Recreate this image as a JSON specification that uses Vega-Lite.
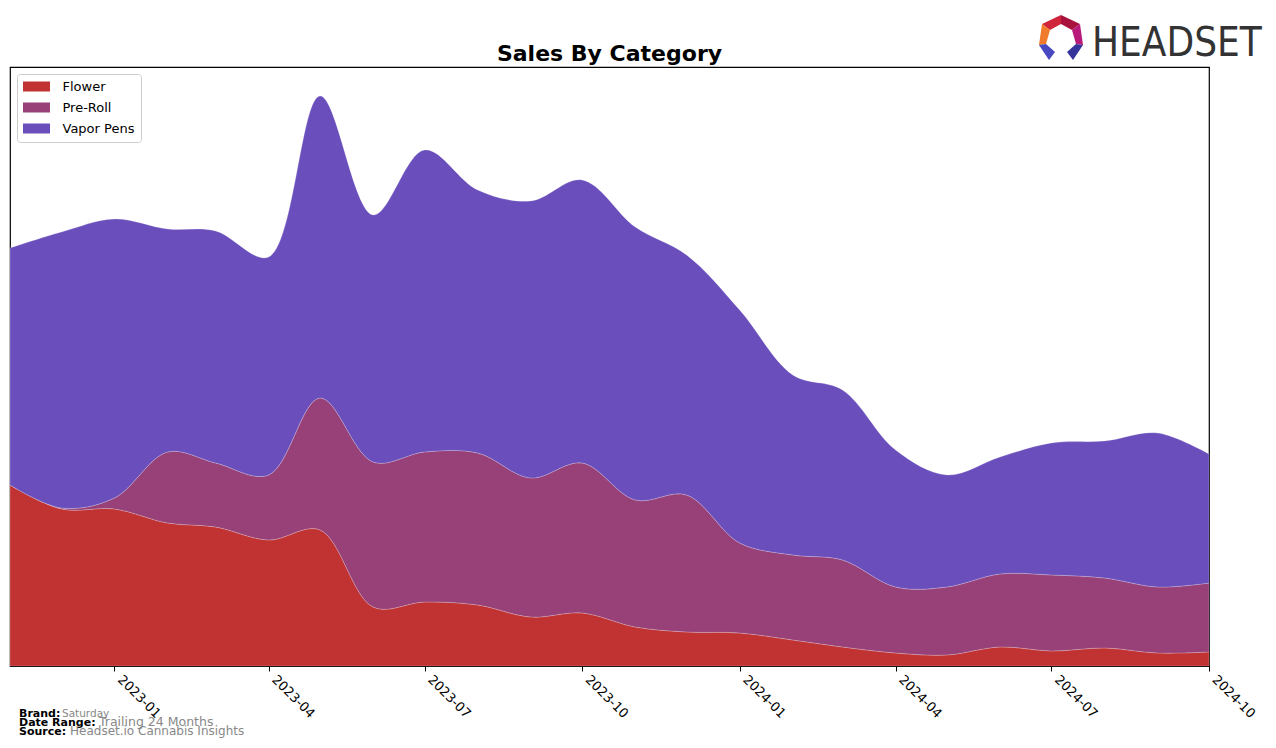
{
  "$schema": "https://vega.github.io/schema/vega-lite/v6.json",
  "autosize": {"type": "none"},
  "width": 1199,
  "height": 599,
  "padding": {"left": 10, "top": 67, "right": 67, "bottom": 82},
  "background": "white",
  "config": {"view": {"stroke": "black", "strokeWidth": 1.2}, "font": "DejaVu Sans"},
  "datasets": {
    "sales": [
      {"month": "2022-11-01", "category": "Flower", "sales": 181},
      {"month": "2022-12-01", "category": "Flower", "sales": 157},
      {"month": "2023-01-01", "category": "Flower", "sales": 157},
      {"month": "2023-02-01", "category": "Flower", "sales": 143},
      {"month": "2023-03-01", "category": "Flower", "sales": 139},
      {"month": "2023-04-01", "category": "Flower", "sales": 126},
      {"month": "2023-05-01", "category": "Flower", "sales": 136},
      {"month": "2023-06-01", "category": "Flower", "sales": 59},
      {"month": "2023-07-01", "category": "Flower", "sales": 64},
      {"month": "2023-08-01", "category": "Flower", "sales": 61},
      {"month": "2023-09-01", "category": "Flower", "sales": 49},
      {"month": "2023-10-01", "category": "Flower", "sales": 53},
      {"month": "2023-11-01", "category": "Flower", "sales": 39},
      {"month": "2023-12-01", "category": "Flower", "sales": 34},
      {"month": "2024-01-01", "category": "Flower", "sales": 33},
      {"month": "2024-02-01", "category": "Flower", "sales": 26},
      {"month": "2024-03-01", "category": "Flower", "sales": 19},
      {"month": "2024-04-01", "category": "Flower", "sales": 13},
      {"month": "2024-05-01", "category": "Flower", "sales": 11},
      {"month": "2024-06-01", "category": "Flower", "sales": 19},
      {"month": "2024-07-01", "category": "Flower", "sales": 15},
      {"month": "2024-08-01", "category": "Flower", "sales": 18},
      {"month": "2024-09-01", "category": "Flower", "sales": 13},
      {"month": "2024-10-01", "category": "Flower", "sales": 14},
      {"month": "2022-11-01", "category": "Pre-Roll", "sales": 0},
      {"month": "2022-12-01", "category": "Pre-Roll", "sales": 1},
      {"month": "2023-01-01", "category": "Pre-Roll", "sales": 11},
      {"month": "2023-02-01", "category": "Pre-Roll", "sales": 71},
      {"month": "2023-03-01", "category": "Pre-Roll", "sales": 64},
      {"month": "2023-04-01", "category": "Pre-Roll", "sales": 65},
      {"month": "2023-05-01", "category": "Pre-Roll", "sales": 132},
      {"month": "2023-06-01", "category": "Pre-Roll", "sales": 145},
      {"month": "2023-07-01", "category": "Pre-Roll", "sales": 150},
      {"month": "2023-08-01", "category": "Pre-Roll", "sales": 152},
      {"month": "2023-09-01", "category": "Pre-Roll", "sales": 139},
      {"month": "2023-10-01", "category": "Pre-Roll", "sales": 150},
      {"month": "2023-11-01", "category": "Pre-Roll", "sales": 127},
      {"month": "2023-12-01", "category": "Pre-Roll", "sales": 137},
      {"month": "2024-01-01", "category": "Pre-Roll", "sales": 90},
      {"month": "2024-02-01", "category": "Pre-Roll", "sales": 85},
      {"month": "2024-03-01", "category": "Pre-Roll", "sales": 87},
      {"month": "2024-04-01", "category": "Pre-Roll", "sales": 66},
      {"month": "2024-05-01", "category": "Pre-Roll", "sales": 68},
      {"month": "2024-06-01", "category": "Pre-Roll", "sales": 73},
      {"month": "2024-07-01", "category": "Pre-Roll", "sales": 76},
      {"month": "2024-08-01", "category": "Pre-Roll", "sales": 70},
      {"month": "2024-09-01", "category": "Pre-Roll", "sales": 66},
      {"month": "2024-10-01", "category": "Pre-Roll", "sales": 69},
      {"month": "2022-11-01", "category": "Vapor Pens", "sales": 237},
      {"month": "2022-12-01", "category": "Vapor Pens", "sales": 276},
      {"month": "2023-01-01", "category": "Vapor Pens", "sales": 279},
      {"month": "2023-02-01", "category": "Vapor Pens", "sales": 223},
      {"month": "2023-03-01", "category": "Vapor Pens", "sales": 232},
      {"month": "2023-04-01", "category": "Vapor Pens", "sales": 218},
      {"month": "2023-05-01", "category": "Vapor Pens", "sales": 302},
      {"month": "2023-06-01", "category": "Vapor Pens", "sales": 247},
      {"month": "2023-07-01", "category": "Vapor Pens", "sales": 302},
      {"month": "2023-08-01", "category": "Vapor Pens", "sales": 263},
      {"month": "2023-09-01", "category": "Vapor Pens", "sales": 277},
      {"month": "2023-10-01", "category": "Vapor Pens", "sales": 283},
      {"month": "2023-11-01", "category": "Vapor Pens", "sales": 273},
      {"month": "2023-12-01", "category": "Vapor Pens", "sales": 240},
      {"month": "2024-01-01", "category": "Vapor Pens", "sales": 233},
      {"month": "2024-02-01", "category": "Vapor Pens", "sales": 180},
      {"month": "2024-03-01", "category": "Vapor Pens", "sales": 170},
      {"month": "2024-04-01", "category": "Vapor Pens", "sales": 137},
      {"month": "2024-05-01", "category": "Vapor Pens", "sales": 112},
      {"month": "2024-06-01", "category": "Vapor Pens", "sales": 117},
      {"month": "2024-07-01", "category": "Vapor Pens", "sales": 132},
      {"month": "2024-08-01", "category": "Vapor Pens", "sales": 137},
      {"month": "2024-09-01", "category": "Vapor Pens", "sales": 154},
      {"month": "2024-10-01", "category": "Vapor Pens", "sales": 129}
    ],
    "one": [{"k": 1}]
  },
  "layer": [
    {
      "data": {"name": "sales"},
      "mark": {"type": "area", "interpolate": "catmull-rom", "opacity": 1, "stroke": "#ffffff", "strokeOpacity": 0.25, "strokeWidth": 0.8},
      "encoding": {
        "x": {
          "field": "month", "type": "temporal",
          "scale": {"type": "utc", "domain": [{"year": 2022, "month": 11, "date": 1, "utc": true}, {"year": 2024, "month": 10, "date": 1, "utc": true}], "nice": false},
          "axis": {
            "values": [
              {"year": 2023, "month": 1, "date": 1, "utc": true},
              {"year": 2023, "month": 4, "date": 1, "utc": true},
              {"year": 2023, "month": 7, "date": 1, "utc": true},
              {"year": 2023, "month": 10, "date": 1, "utc": true},
              {"year": 2024, "month": 1, "date": 1, "utc": true},
              {"year": 2024, "month": 4, "date": 1, "utc": true},
              {"year": 2024, "month": 7, "date": 1, "utc": true},
              {"year": 2024, "month": 10, "date": 1, "utc": true}
            ],
            "format": "%Y-%m", "labelAngle": 45, "labelAlign": "left", "labelBaseline": "bottom",
            "labelFontSize": 13, "labelFont": "DejaVu Sans", "labelColor": "black",
            "tickColor": "black", "tickSize": 5, "tickWidth": 1, "domain": false, "grid": false, "title": null,
            "labelPadding": 11, "labelOverlap": false, "labelBound": false, "labelFlush": false
          }
        },
        "y": {"field": "sales", "type": "quantitative", "stack": "zero", "scale": {"domain": [0, 599], "nice": false}, "axis": null},
        "order": {"field": "category", "type": "nominal", "sort": "ascending"},
        "color": {
          "field": "category", "type": "nominal",
          "scale": {"domain": ["Flower", "Pre-Roll", "Vapor Pens"], "range": ["#c13232", "#974178", "#6a4fbc"]},
          "legend": {
            "title": null, "orient": "top-left", "offset": 7, "padding": 6, "rowPadding": 7,
            "symbolType": "M-1.3,-1H4.1V1H-1.3Z", "symbolSize": 100, "symbolStrokeWidth": 0, "symbolOpacity": 1,
            "labelFontSize": 13, "labelFont": "DejaVu Sans", "labelColor": "black", "labelOffset": 26.5,
            "strokeColor": "#cccccc", "fillColor": "white", "cornerRadius": 3
          }
        }
      }
    },
    {"data": {"name": "one"}, "mark": {"type": "text", "align": "center", "baseline": "alphabetic", "fontSize": 22, "fontWeight": "bold", "color": "black", "font": "DejaVu Sans"},
     "encoding": {"x": {"value": 599.5}, "y": {"value": -6}, "text": {"value": "Sales By Category"}}},
    {"data": {"name": "one"}, "mark": {"type": "text", "align": "left", "baseline": "alphabetic", "fontSize": 11, "fontWeight": "bold", "color": "black", "font": "DejaVu Sans"},
     "encoding": {"x": {"value": 9}, "y": {"value": 650}, "text": {"value": "Brand:"}}},
    {"data": {"name": "one"}, "mark": {"type": "text", "align": "left", "baseline": "alphabetic", "fontSize": 10.5, "color": "#888888", "font": "DejaVu Sans"},
     "encoding": {"x": {"value": 52}, "y": {"value": 650}, "text": {"value": "Saturday"}}},
    {"data": {"name": "one"}, "mark": {"type": "text", "align": "left", "baseline": "alphabetic", "fontSize": 11, "fontWeight": "bold", "color": "black", "font": "DejaVu Sans"},
     "encoding": {"x": {"value": 9}, "y": {"value": 659}, "text": {"value": "Date Range:"}}},
    {"data": {"name": "one"}, "mark": {"type": "text", "align": "left", "baseline": "alphabetic", "fontSize": 12.5, "color": "#888888", "font": "DejaVu Sans"},
     "encoding": {"x": {"value": 89}, "y": {"value": 659}, "text": {"value": "Trailing 24 Months"}}},
    {"data": {"name": "one"}, "mark": {"type": "text", "align": "left", "baseline": "alphabetic", "fontSize": 11, "fontWeight": "bold", "color": "black", "font": "DejaVu Sans"},
     "encoding": {"x": {"value": 9}, "y": {"value": 668}, "text": {"value": "Source:"}}},
    {"data": {"name": "one"}, "mark": {"type": "text", "align": "left", "baseline": "alphabetic", "fontSize": 12, "color": "#888888", "font": "DejaVu Sans"},
     "encoding": {"x": {"value": 60}, "y": {"value": 668}, "text": {"value": "Headset.io Cannabis Insights"}}},
    {"data": {"name": "one"}, "mark": {"type": "text", "align": "left", "baseline": "alphabetic", "fontSize": 40, "color": "#333333", "font": "DejaVu Sans Condensed, Liberation Sans Narrow, sans-serif"},
     "encoding": {"x": {"value": 1082}, "y": {"value": -11}, "text": {"value": "HEADSET"}}},
    {"data": {"name": "one"}, "mark": {"type": "point", "filled": true, "opacity": 1, "size": 2116, "color": "#d0243a", "shape": "M-0.826,-0.565L0,-0.957L0,-0.565L-0.478,-0.304Z"},
     "encoding": {"x": {"value": 1051}, "y": {"value": -30}}},
    {"data": {"name": "one"}, "mark": {"type": "point", "filled": true, "opacity": 1, "size": 2116, "color": "#a8123c", "shape": "M0,-0.957L0.826,-0.565L0.478,-0.304L0,-0.565Z"},
     "encoding": {"x": {"value": 1051}, "y": {"value": -30}}},
    {"data": {"name": "one"}, "mark": {"type": "point", "filled": true, "opacity": 1, "size": 2116, "color": "#f07b2a", "shape": "M-0.826,-0.565L-0.478,-0.304L-0.652,0.304L-0.957,0.348Z"},
     "encoding": {"x": {"value": 1051}, "y": {"value": -30}}},
    {"data": {"name": "one"}, "mark": {"type": "point", "filled": true, "opacity": 1, "size": 2116, "color": "#b81a7a", "shape": "M0.826,-0.565L0.957,0.348L0.652,0.304L0.478,-0.304Z"},
     "encoding": {"x": {"value": 1051}, "y": {"value": -30}}},
    {"data": {"name": "one"}, "mark": {"type": "point", "filled": true, "opacity": 1, "size": 2116, "color": "#4848c0", "shape": "M-0.957,0.348L-0.652,0.304L-0.261,0.652L-0.522,1Z"},
     "encoding": {"x": {"value": 1051}, "y": {"value": -30}}},
    {"data": {"name": "one"}, "mark": {"type": "point", "filled": true, "opacity": 1, "size": 2116, "color": "#34349a", "shape": "M0.957,0.348L0.652,0.304L0.261,0.652L0.522,1Z"},
     "encoding": {"x": {"value": 1051}, "y": {"value": -30}}}
  ]
}
